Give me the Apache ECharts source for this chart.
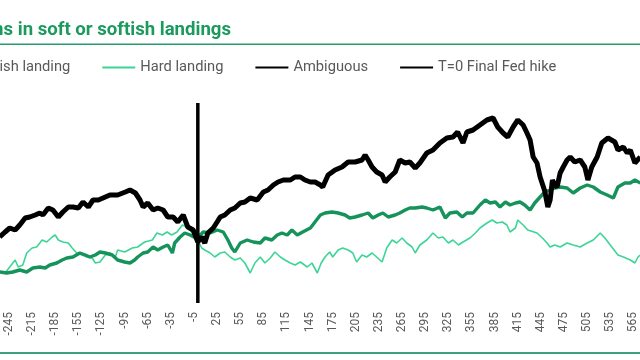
<!DOCTYPE html>
<html><head><meta charset="utf-8">
<script src="https://cdn.jsdelivr.net/npm/echarts@6/dist/echarts.min.js"></script>
<style>html,body{margin:0;padding:0;background:#fff}#c{width:640px;height:360px}</style>
</head><body><div id="c"></div>
<script>
const titleText = 'S&P 500 returns in soft or softish landings';
const seriesNames = ['Soft or softish landing', 'Hard landing', 'Ambiguous', 'T=0 Final Fed hike'];
const tickDays = [-245,-215,-185,-155,-125,-95,-65,-35,-5,25,55,85,115,145,175,205,235,265,295,325,355,385,415,445,475,505,535,565];

const ambDays = [-257,-250,-244,-237,-231,-224,-218,-211,-205,-201,-194,-188,-181,-175,-168,-162,-155,-149,-142,-136,-129,-123,-114,-104,-94,-88,-81,-75,-71,-65,-58,-52,-45,-39,-32,-26,-19,-13,-6,0,5,9,13,20,25,29,35,42,48,55,61,68,77,85,91,98,104,111,120,126,133,139,146,152,159,162,169,178,187,195,204,213,217,221,226,232,239,243,249,256,262,269,275,282,288,297,305,314,323,331,337,344,349,357,366,375,383,389,396,402,409,415,422,427,431,435,440,444,450,454,457,460,463,466,470,474,479,483,489,496,502,506,511,518,524,532,541,545,552,557,561,567,574];
const ambVals = [99.5,100.75,101.75,101.25,102.5,104.25,104.5,105,105.5,105,106.75,106.25,104.5,105.75,107,107,106.75,108.25,107,108.75,108.75,109.25,110,110,110.75,111.25,110.5,108.75,107,108,106.25,106.75,106.25,104.5,104.5,103.25,105,102,101.25,98.25,99.5,98,100.5,101.75,103.25,104.5,105,106.25,106.75,108,108.25,109.25,108.75,110.75,111.25,112.5,113.25,113.75,113.75,114.5,114.5,113.75,113.25,113.25,112.5,112,115,116.25,117,118.25,118.25,118.75,120,118.75,117,115.75,115,113.25,114.5,115.75,118.75,118,118.25,116.75,118,120.5,121.25,123,124.25,124.5,125.75,123,125.75,126.25,127.5,128.75,129.25,127,125.5,124.5,127,128.75,127.5,125.5,123.75,119.5,118,114.5,111,107,108.75,113.75,112.5,112,115.5,117,118.75,119.5,118.25,118.75,117,113.75,117,119.5,123,124.25,123.25,121.25,122,120.5,121.25,118,119.5];

const softDays = [-257,-248,-240,-231,-222,-214,-205,-198,-192,-183,-176,-170,-162,-153,-146,-140,-133,-127,-120,-111,-104,-95,-88,-82,-78,-71,-65,-58,-52,-45,-39,-33,-30,-23,-17,-10,-5,0,7,16,25,33,39,44,48,55,64,72,81,87,96,103,109,116,122,129,136,146,152,159,165,174,182,191,197,204,213,221,227,234,240,247,256,262,269,275,282,291,297,305,314,321,327,336,343,349,357,366,373,379,386,392,399,405,412,418,424,431,437,444,450,457,463,470,479,487,496,505,513,522,531,539,545,554,561,567,574];
const softVals = [90.75,90.5,90.75,91.25,90.75,91.75,92,91.75,92.5,93,93.75,94.25,94.5,95.5,95,94.5,95,95.75,95.5,95,93.75,93.25,93,93.75,94.5,95.5,95.75,97,96.25,97,97.5,95.5,98,99.5,100.5,100,99.5,99.25,100.75,100.5,101.25,100.75,98.75,96.75,95.75,98,98.75,98.25,98,99.25,98.75,100,100.5,100,101.25,100,100.75,101.75,103.25,105,105.5,105.75,105.5,105,104.25,104.5,105,105.5,104.25,105,105.5,104.5,105,105.5,106.25,106.75,106.75,107,106.75,106.25,107,104.25,105.5,105.75,104.5,105.5,105.5,107.5,108.75,108,108.25,107,108.25,107.5,108,108.25,107.5,106.25,108,109.5,110.75,111.25,111.75,112,111.75,110.5,111.75,112.5,112,110.75,110,109.25,112,113,113,113.75,113];

const hardDays = [-257,-250,-244,-237,-233,-227,-222,-215,-209,-202,-196,-189,-185,-181,-175,-168,-163,-157,-150,-144,-137,-133,-127,-120,-114,-107,-104,-95,-85,-78,-69,-59,-53,-46,-40,-34,-27,-20,-14,-8,-4,0,5,9,16,22,29,35,42,48,55,61,68,74,81,87,94,100,107,113,120,126,133,142,148,155,160,165,171,175,182,188,195,201,206,213,219,226,232,239,245,252,258,265,271,278,282,288,297,305,312,318,325,331,338,344,353,360,366,375,382,388,395,401,405,412,415,422,428,440,447,453,457,463,470,479,487,496,505,513,522,528,537,545,552,561,567,571,574];
const hardVals = [90.75,90.5,92,93.75,92,92.5,95.5,96.75,97,98.75,98.25,99.5,100,98.75,98.25,98,96.75,95.5,95,94.5,94.25,93,93.25,95,95.5,94.5,96.25,95.75,96.75,97,98.25,98.75,100.5,100,100.75,100,100.75,102.5,102,100.75,99.5,98.75,96.75,96.25,95.5,94.5,95.5,95.75,94.5,93.75,94.25,93,90.5,93,94.5,93,94.25,95.75,94.5,93.75,93,92.5,93.25,92,93,90.5,93,94.5,95.75,94.5,96.25,96.75,96.25,95.5,93.25,95,94.5,95.5,94.5,93.25,96.75,98.75,98,99.25,98,97,95.5,97.5,98.75,100.5,99.25,99.5,98,98.75,97.5,98.25,99.25,100.5,101.75,103,103.75,103,103.25,102.5,100.75,101.75,103.75,102.5,101.25,100.5,99.25,98,97,97.5,97,98,97.5,97,98,98.75,100.5,99.25,97,95,94.5,93.75,93,94.5,95];

const finalHikeDay = 0;
const yMin = 83, yMax = 133;

function zip(a, b) { const n = Math.min(a.length, b.length); const r = []; for (let i = 0; i < n; i++) r.push([a[i], b[i]]); return r; }

const chart = echarts.init(document.getElementById('c'), null, { renderer: 'canvas' });
const FONT = 'Roboto, "Noto Sans", sans-serif';
chart.setOption({
  animation: false,
  backgroundColor: '#ffffff',
  grid: { left: -2.6, right: -8.8, top: 103, bottom: 57, outerBoundsMode: 'none', containLabel: false },
  legend: {
    data: seriesNames,
    left: -118, top: 55,
    itemWidth: 33, itemHeight: 14, itemGap: 31,
    itemStyle: { opacity: 0 },
    textStyle: { fontSize: 14.7, color: '#595959', fontFamily: FONT }
  },
  xAxis: {
    type: 'value', min: -260, max: 585,
    axisLine: { show: false }, axisTick: { show: false }, splitLine: { show: false },
    axisLabel: { customValues: tickDays, rotate: 90, fontSize: 12, color: '#595959', margin: 9, fontFamily: FONT }
  },
  yAxis: { type: 'value', min: yMin, max: yMax, show: false, splitLine: { show: false } },
  graphic: [
    { type: 'text', x: 231, y: 30, style: { text: titleText, textAlign: 'right', textVerticalAlign: 'middle', fill: '#1A9A5C', font: 'bold 18.6px ' + FONT } },
    { type: 'rect', shape: { x: 0, y: 43.5, width: 640, height: 1.5 }, style: { fill: '#2A9A6C' } },
    { type: 'rect', shape: { x: 0, y: 352, width: 640, height: 2 }, style: { fill: '#3DA07E' } }
  ],
  series: [
    { name: seriesNames[1], type: 'line', data: zip(hardDays, hardVals), symbol: 'none', lineStyle: { width: 1.6, color: '#3DD597' }, itemStyle: { color: '#3DD597' }, z: 2 },
    { name: seriesNames[0], type: 'line', data: zip(softDays, softVals), symbol: 'none', lineStyle: { width: 3.4, color: '#15935A' }, itemStyle: { color: '#15935A' }, z: 3 },
    { name: seriesNames[2], type: 'line', data: zip(ambDays, ambVals), symbol: 'none', lineStyle: { width: 5, color: '#000000' }, itemStyle: { color: '#000000' }, z: 4 },
    { name: seriesNames[3], type: 'line', data: [[finalHikeDay, yMin], [finalHikeDay, yMax]], symbol: 'none', lineStyle: { width: 3.5, color: '#000000' }, itemStyle: { color: '#000000' }, z: 5 }
  ]
});
</script></body></html>
